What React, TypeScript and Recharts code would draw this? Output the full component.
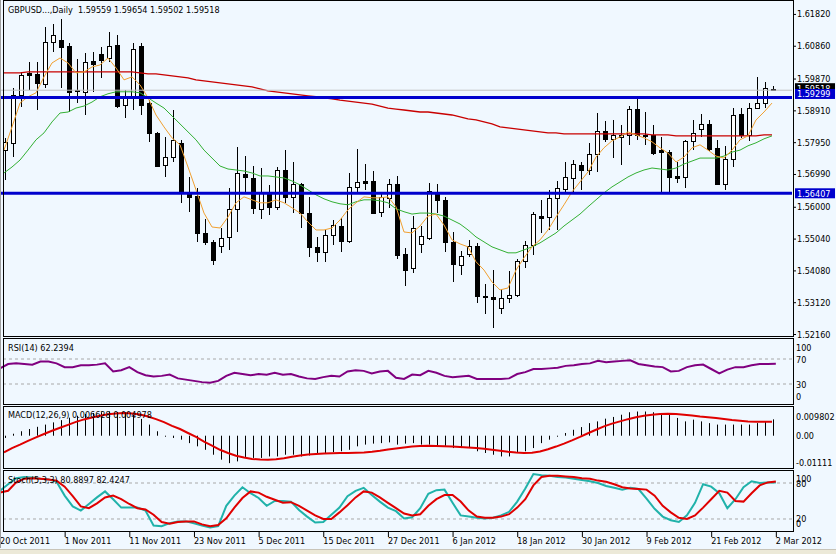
import React from 'react'
import { ComposedChart, Bar, Line, XAxis, YAxis, ReferenceLine } from 'recharts'

// labels under the bottom panel, one every 8 daily bars
const dateTicks = ['20 Oct 2011', '1 Nov 2011', '11 Nov 2011', '23 Nov 2011', '5 Dec 2011', '15 Dec 2011', '27 Dec 2011', '6 Jan 2012', '18 Jan 2012', '30 Jan 2012', '9 Feb 2012', '21 Feb 2012', '2 Mar 2012']

const opens = [
  1.5771, 1.5793, 1.5938, 1.6004, 1.6001, 1.5971, 1.6098, 1.6104, 1.6086, 1.5951,
  1.5947, 1.6040, 1.6061, 1.6049, 1.6089, 1.5907, 1.5932, 1.6086, 1.5913, 1.5823,
  1.5726, 1.5750, 1.5793, 1.5642, 1.5633, 1.5521, 1.5494, 1.5482, 1.5509, 1.5594,
  1.5699, 1.5687, 1.5594, 1.5645, 1.5600, 1.5711, 1.5630, 1.5669, 1.5581, 1.5479,
  1.5464, 1.5515, 1.5542, 1.5497, 1.5660, 1.5678, 1.5678, 1.5585, 1.5627, 1.5669,
  1.5458, 1.5415, 1.5488, 1.5506, 1.5645, 1.5621, 1.5494, 1.5425, 1.5458, 1.5482,
  1.5331, 1.5328, 1.5295, 1.5325, 1.5334, 1.5437, 1.5485, 1.5572, 1.5569, 1.5627,
  1.5654, 1.5687, 1.5726, 1.5711, 1.5759, 1.5829, 1.5805, 1.5811, 1.5817, 1.5895,
  1.5817, 1.5817, 1.5771, 1.5765, 1.5693, 1.5690, 1.5799, 1.5835, 1.5850, 1.5778,
  1.5669, 1.5744, 1.5880, 1.5817, 1.5898, 1.5913, 1.59559,
]
const highs = [
  1.5808, 1.5959, 1.6007, 1.6037, 1.6037, 1.6143, 1.6152, 1.6167, 1.6095, 1.6046,
  1.6064, 1.6067, 1.6083, 1.6128, 1.6119, 1.5953, 1.6095, 1.6095, 1.5922, 1.5826,
  1.5811, 1.5892, 1.5802, 1.5690, 1.5657, 1.5563, 1.5500, 1.5536, 1.5657, 1.5781,
  1.5753, 1.5723, 1.5717, 1.5666, 1.5720, 1.5771, 1.5735, 1.5672, 1.5630, 1.5509,
  1.5530, 1.5560, 1.5566, 1.5702, 1.5775, 1.5729, 1.5708, 1.5645, 1.5684, 1.5693,
  1.5476, 1.5572, 1.5542, 1.5672, 1.5669, 1.5630, 1.5524, 1.5467, 1.5500, 1.5491,
  1.5367, 1.5409, 1.5352, 1.5406, 1.5443, 1.5497, 1.5584, 1.5621, 1.5651, 1.5678,
  1.5735, 1.5741, 1.5735, 1.5793, 1.5883, 1.5859, 1.5862, 1.5847, 1.5904, 1.5932,
  1.5886, 1.5847, 1.5811, 1.5771, 1.5735, 1.5802, 1.5862, 1.5880, 1.5862, 1.5802,
  1.5784, 1.5898, 1.5898, 1.5913, 1.5992, 1.5977, 1.59654,
]
const lows = [
  1.5681, 1.5750, 1.5901, 1.5953, 1.5892, 1.5959, 1.6067, 1.5959, 1.5886, 1.5913,
  1.5877, 1.5947, 1.5989, 1.6037, 1.5898, 1.5868, 1.5892, 1.5877, 1.5796, 1.5720,
  1.5690, 1.5735, 1.5612, 1.5585, 1.5494, 1.5485, 1.5425, 1.5461, 1.5470, 1.5524,
  1.5642, 1.5578, 1.5563, 1.5575, 1.5591, 1.5612, 1.5581, 1.5536, 1.5449, 1.5434,
  1.5434, 1.5485, 1.5464, 1.5491, 1.5645, 1.5651, 1.5578, 1.5569, 1.5597, 1.5443,
  1.5361, 1.5400, 1.5461, 1.5500, 1.5581, 1.5464, 1.5373, 1.5394, 1.5449, 1.5310,
  1.5277, 1.5234, 1.5277, 1.5310, 1.5328, 1.5415, 1.5455, 1.5521, 1.5530, 1.5530,
  1.5642, 1.5642, 1.5651, 1.5696, 1.5705, 1.5796, 1.5747, 1.5726, 1.5787, 1.5802,
  1.5787, 1.5756, 1.5642, 1.5642, 1.5672, 1.5657, 1.5771, 1.5811, 1.5768, 1.5666,
  1.5651, 1.5720, 1.5808, 1.5799, 1.5895, 1.5898, 1.59502,
]
const closes = [
  1.5796, 1.5938, 1.5998, 1.5998, 1.5974, 1.6098, 1.6119, 1.6083, 1.5947, 1.5950,
  1.6037, 1.6031, 1.6043, 1.6086, 1.5904, 1.5932, 1.6076, 1.5907, 1.5823, 1.5723,
  1.5750, 1.5802, 1.5642, 1.5630, 1.5521, 1.5494, 1.5440, 1.5506, 1.5594, 1.5702,
  1.5690, 1.5597, 1.5645, 1.5600, 1.5711, 1.5630, 1.5669, 1.5581, 1.5479, 1.5464,
  1.5515, 1.5545, 1.5497, 1.5660, 1.5675, 1.5672, 1.5581, 1.5630, 1.5669, 1.5455,
  1.5409, 1.5536, 1.5512, 1.5648, 1.5621, 1.5494, 1.5428, 1.5452, 1.5482, 1.5331,
  1.5328, 1.5322, 1.5325, 1.5334, 1.5437, 1.5485, 1.5578, 1.5566, 1.5627, 1.5657,
  1.5690, 1.5729, 1.5711, 1.5759, 1.5829, 1.5805, 1.5817, 1.5817, 1.5895, 1.5817,
  1.5814, 1.5762, 1.5765, 1.5690, 1.5687, 1.5799, 1.5823, 1.5850, 1.5775, 1.5669,
  1.5744, 1.5877, 1.5817, 1.5898, 1.5913, 1.5959, 1.59518,
]

// moving averages drawn on the price panel
const maFast = [
  1.5771, 1.5841, 1.5913, 1.5932, 1.5944, 1.5992, 1.6034, 1.6049, 1.6034, 1.6004,
  1.6007, 1.6022, 1.6028, 1.6049, 1.6019, 1.5983, 1.5992, 1.5968, 1.5929, 1.5877,
  1.5841, 1.5808, 1.5787, 1.5720, 1.5651, 1.5581, 1.5539, 1.5536, 1.5569, 1.5612,
  1.5630, 1.5621, 1.5612, 1.5612, 1.5621, 1.5612, 1.5597, 1.5581, 1.5554, 1.5530,
  1.5530, 1.5536, 1.5560, 1.5591, 1.5612, 1.5630, 1.5627, 1.5627, 1.5630, 1.5600,
  1.5524, 1.5521, 1.5542, 1.5572, 1.5578, 1.5545, 1.5500, 1.5488, 1.5479, 1.5434,
  1.5409, 1.5373, 1.5349, 1.5355, 1.5409, 1.5446, 1.5479, 1.5500, 1.5530, 1.5569,
  1.5606, 1.5645, 1.5675, 1.5705, 1.5750, 1.5778, 1.5799, 1.5811, 1.5826, 1.5817,
  1.5808, 1.5796, 1.5778, 1.5762, 1.5735, 1.5750, 1.5778, 1.5787, 1.5771, 1.5753,
  1.5747, 1.5771, 1.5802, 1.5814, 1.5862, 1.5886, 1.5913,
]
const maMid = [
  1.5702, 1.5720, 1.5741, 1.5771, 1.5802, 1.5823, 1.5856, 1.5883, 1.5886, 1.5898,
  1.5904, 1.5916, 1.5932, 1.5941, 1.5947, 1.5947, 1.5947, 1.5944, 1.5929, 1.5913,
  1.5898, 1.5874, 1.5850, 1.5826, 1.5802, 1.5771, 1.5747, 1.5723, 1.5714, 1.5711,
  1.5708, 1.5702, 1.5693, 1.5693, 1.5690, 1.5687, 1.5678, 1.5666, 1.5651, 1.5636,
  1.5624, 1.5615, 1.5609, 1.5606, 1.5615, 1.5621, 1.5621, 1.5618, 1.5612, 1.5594,
  1.5585, 1.5578, 1.5581, 1.5581, 1.5578, 1.5572, 1.5560, 1.5548, 1.5530, 1.5509,
  1.5494, 1.5479, 1.5470, 1.5461, 1.5461, 1.5470, 1.5479, 1.5491, 1.5506, 1.5521,
  1.5542, 1.5560, 1.5578, 1.5600, 1.5621, 1.5642, 1.5660, 1.5675, 1.5690, 1.5702,
  1.5711, 1.5717, 1.5714, 1.5711, 1.5717, 1.5729, 1.5738, 1.5747, 1.5747, 1.5747,
  1.5753, 1.5765, 1.5771, 1.5784, 1.5793, 1.5805, 1.5814,
]
const maSlow = [
  1.6004, 1.6004, 1.6004, 1.6007, 1.6007, 1.6007, 1.6007, 1.6007, 1.6007, 1.6007,
  1.6007, 1.6007, 1.6007, 1.6007, 1.6007, 1.6007, 1.6007, 1.6004, 1.6001, 1.6001,
  1.5998, 1.5995, 1.5992, 1.5989, 1.5983, 1.5980, 1.5977, 1.5974, 1.5971, 1.5968,
  1.5965, 1.5962, 1.5956, 1.5950, 1.5947, 1.5944, 1.5941, 1.5938, 1.5935, 1.5932,
  1.5929, 1.5926, 1.5922, 1.5919, 1.5916, 1.5913, 1.5910, 1.5904, 1.5898, 1.5895,
  1.5892, 1.5889, 1.5886, 1.5886, 1.5883, 1.5880, 1.5877, 1.5871, 1.5865, 1.5862,
  1.5856, 1.5850, 1.5841, 1.5838, 1.5835, 1.5832, 1.5829, 1.5826, 1.5823, 1.5823,
  1.5820, 1.5820, 1.5820, 1.5820, 1.5820, 1.5820, 1.5820, 1.5820, 1.5820, 1.5820,
  1.5820, 1.5817, 1.5817, 1.5817, 1.5814, 1.5814, 1.5814, 1.5814, 1.5814, 1.5814,
  1.5814, 1.5814, 1.5814, 1.5814, 1.5814, 1.5817, 1.5817,
]

const rsi = [
  55, 62, 63, 62, 61, 66, 66, 63, 57, 57,
  60, 60, 61, 63, 50, 52, 57, 49, 44, 42,
  43, 45, 39, 37, 35, 33, 32, 35, 43, 48,
  46, 44, 46, 45, 48, 45, 46, 42, 39, 38,
  41, 43, 42, 50, 52, 51, 47, 50, 51, 40,
  38, 45, 44, 51, 48, 43, 41, 42, 43, 38,
  38, 38, 38, 39, 46, 49, 54, 54, 55, 56,
  59, 60, 62, 63, 67, 65, 66, 67, 68, 62,
  60, 58, 57, 50, 51, 57, 60, 61, 54, 47,
  53, 57, 57, 60, 62, 62, 62.2394,
]

const macdHist = [
  -0.0009, 0.0008, 0.0018, 0.0027, 0.0036, 0.0045, 0.0054, 0.0063, 0.0073, 0.0081,
  0.0088, 0.0092, 0.0095, 0.009802, 0.0096, 0.0092, 0.0085, 0.0068, 0.0045, 0.0018,
  -0.0003, -0.0009, -0.0016, -0.0030, -0.0043, -0.0057, -0.0077, -0.0097, -0.01111, -0.0104,
  -0.0090, -0.0090, -0.0090, -0.0084, -0.0084, -0.0077, -0.0077, -0.0084, -0.0080, -0.0073,
  -0.0070, -0.0066, -0.0063, -0.0057, -0.0043, -0.0036, -0.0032, -0.0030, -0.0027, -0.0036,
  -0.0032, -0.0030, -0.0036, -0.0036, -0.0043, -0.0041, -0.0050, -0.0050, -0.0050, -0.0063,
  -0.0070, -0.0077, -0.0084, -0.0084, -0.0070, -0.0063, -0.0050, -0.0030, -0.0016, -0.0003,
  0.0011, 0.0024, 0.0035, 0.0051, 0.0058, 0.0069, 0.0076, 0.0085, 0.0095, 0.0098,
  0.0098, 0.0095, 0.0092, 0.0085, 0.0072, 0.0058, 0.0065, 0.0058, 0.0051, 0.0045,
  0.0045, 0.0045, 0.0045, 0.0045, 0.0051, 0.0058, 0.006628,
]
const macdSignal = [
  -0.0068, -0.0050, -0.0036, -0.0021, -0.0007, 0.0007, 0.0020, 0.0032, 0.0044, 0.0056,
  0.0066, 0.0074, 0.0081, 0.0087, 0.0090, 0.0092, 0.0090, 0.0086, 0.0078, 0.0067,
  0.0055, 0.0040, 0.0027, 0.0011, -0.0005, -0.0024, -0.0040, -0.0057, -0.0070, -0.0081,
  -0.0088, -0.0094, -0.0096, -0.0097, -0.0095, -0.0091, -0.0085, -0.0080, -0.0076, -0.0074,
  -0.0072, -0.0071, -0.0070, -0.0070, -0.0069, -0.0068, -0.0065, -0.0061, -0.0056, -0.0052,
  -0.0048, -0.0044, -0.0042, -0.0041, -0.0042, -0.0043, -0.0044, -0.0046, -0.0048, -0.0050,
  -0.0053, -0.0057, -0.0061, -0.0065, -0.0068, -0.0070, -0.0069, -0.0064, -0.0055, -0.0044,
  -0.0032, -0.0019, -0.0005, 0.0010, 0.0024, 0.0038, 0.0049, 0.0058, 0.0067, 0.0075,
  0.0081, 0.0085, 0.0088, 0.0089, 0.0088, 0.0085, 0.0082, 0.0078, 0.0075, 0.0072,
  0.0068, 0.0064, 0.0061, 0.0058, 0.0057, 0.0057, 0.0057,
]

const stochMain = [
  67, 78, 88, 90, 89, 87, 86, 82, 59, 41,
  34, 45, 56, 66, 53, 39, 39, 39, 34, 9,
  8, 13, 16, 16, 13, 9, 6, 8, 42, 59,
  73, 63, 55, 42, 50, 50, 49, 35, 24, 14,
  15, 27, 39, 58, 67, 72, 60, 49, 39, 33,
  21, 23, 38, 62, 68, 69, 47, 26, 24, 22,
  21, 22, 26, 32, 49, 71, 95, 93, 92, 90,
  89, 87, 85, 83, 80, 75, 72, 69, 72, 70,
  54, 37, 24, 18, 15, 26, 47, 78, 74, 63,
  38, 53, 73, 83, 80, 81, 80.8897,
]
const stochSignal = [
  64, 67, 81, 87, 88, 87, 86, 84, 74, 58,
  41, 38, 46, 56, 59, 53, 45, 38, 36, 27,
  15, 12, 15, 16, 16, 11, 8, 10, 21, 39,
  55, 66, 64, 57, 52, 47, 48, 42, 34, 26,
  20, 20, 31, 43, 56, 66, 64, 56, 47, 38,
  29, 26, 28, 42, 53, 60, 60, 49, 34, 24,
  22, 22, 24, 28, 39, 53, 76, 90, 92, 92,
  91, 90, 88, 87, 84, 82, 78, 73, 71, 70,
  69, 59, 42, 31, 22, 20, 26, 39, 53, 67,
  64, 50, 49, 63, 76, 81, 82.4247,
]

const priceTicks = [1.6182, 1.6086, 1.5987, 1.5891, 1.5795, 1.5699, 1.56, 1.5504, 1.5408, 1.5312, 1.5216]
const bidPrice = 1.59518
const hLines = [1.59299, 1.56407]

const FONT = "'DejaVu Sans Condensed', 'Liberation Sans', Arial, sans-serif"
const BG = '#F0F8FF'

// two empty slots on the right, like the chart shift in the terminal
const rows = Array.from({ length: opens.length + 2 }, (_, i) =>
  i < opens.length
    ? {
        i,
        o: opens[i],
        h: highs[i],
        l: lows[i],
        c: closes[i],
        range: [lows[i], highs[i]],
        fast: maFast[i],
        mid: maMid[i],
        slow: maSlow[i],
        rsi: rsi[i],
        hist: macdHist[i],
        signal: macdSignal[i],
        k: stochMain[i],
        d: stochSignal[i],
      }
    : { i }
)

const Candle = (props: any) => {
  const { x, y, width, height, payload } = props
  if (!payload || payload.o == null) return null
  const top = Math.min(y, y + height)
  const bottom = Math.max(y, y + height)
  const span = payload.h - payload.l || 1
  const py = (v: number) => top + ((payload.h - v) / span) * (bottom - top)
  const c = Math.round(x + width / 2)
  const yo = Math.round(py(payload.o))
  const yc = Math.round(py(payload.c))
  const up = payload.c >= payload.o
  const bTop = Math.min(yo, yc)
  const bH = Math.abs(yo - yc)
  return (
    <g>
      <line x1={c + 0.5} x2={c + 0.5} y1={Math.round(top)} y2={Math.round(bottom)} stroke="#000" />
      {bH < 1 ? (
        <line x1={c - 2} x2={c + 3} y1={bTop + 0.5} y2={bTop + 0.5} stroke="#000" />
      ) : (
        <rect x={c - 1.5} y={bTop + 0.5} width={4} height={bH} fill={up ? '#fff' : '#000'} stroke="#000" />
      )}
    </g>
  )
}

const HistBar = (p: any) => {
  if (!p.payload || p.payload.hist == null) return null
  const top = Math.min(p.y, p.y + p.height)
  const h = Math.abs(p.height)
  return <rect x={Math.round(p.x + p.width / 2)} y={top} width={1} height={Math.max(h, 1)} fill="#000" />
}

const PriceTick = (props: any) => {
  const { x, y, payload } = props
  const v = payload.value as number
  const txt = v.toFixed(5)
  if (v === bidPrice || hLines.includes(v)) {
    // the terminal nudges the two stacked price boxes up a little
    const cy = v === bidPrice ? y - 2 : v === hLines[0] ? y - 3.5 : y
    return (
      <g>
        <rect x={x + 3} y={cy - 5} width={40} height={10} fill={v === bidPrice ? '#000' : '#0000CD'} />
        <text x={x + 5} y={cy + 3.5} fill="#fff" fontSize={9} fontFamily={FONT}>{txt}</text>
      </g>
    )
  }
  return (
    <g>
      <line x1={x + 1} x2={x + 4} y1={y + 0.5} y2={y + 0.5} stroke="#000" />
      <text x={x + 5} y={y + 3.5} fontSize={9} fontFamily={FONT} fill="#000">{txt}</text>
    </g>
  )
}

const SideTick = (props: any) => {
  const { x, y, payload, labels, shift } = props
  const v = payload.value
  const yy = y + (shift?.[String(v)] ?? 0)
  return (
    <text x={x + 4} y={yy + 3.5} fontSize={9} fontFamily={FONT} fill="#000">
      {labels?.[String(v)] ?? String(v)}
    </text>
  )
}

const DateTick = (props: any) => {
  const { x, y, payload } = props
  const label = dateTicks[Math.round(payload.value / 8)]
  if (!label) return null
  return (
    <g>
      <line x1={x + 0.5} x2={x + 0.5} y1={y} y2={y + 5} stroke="#000" />
      <text x={x} y={y + 12} fontSize={9} fontFamily={FONT} fill="#000">{label}</text>
    </g>
  )
}

const abs = (left: number, top: number): React.CSSProperties => ({ position: 'absolute', left, top })
const labelStyle = (left: number, top: number): React.CSSProperties => ({
  ...abs(left, top),
  fontSize: 9,
  lineHeight: '11px',
  fontFamily: FONT,
  color: '#000',
  whiteSpace: 'pre',
})

const frames = [
  [0, 337],
  [338, 67],
  [406, 63],
  [470, 62],
]

const noMargin = { top: 0, right: 0, bottom: 0, left: 0 }

export default function App() {
  return (
    <div style={{ position: 'fixed', left: 0, top: 0, width: 836, height: 554, background: BG, overflow: 'hidden' }}>
      {/* price panel */}
      <div style={abs(0, 2)}>
        <ComposedChart width={836} height={342} data={rows} margin={{ top: 0, right: 0, bottom: 8, left: 0 }}>
          <XAxis dataKey="i" hide />
          <YAxis
            orientation="right"
            width={44}
            domain={[1.521, 1.6218]}
            allowDataOverflow
            ticks={[...priceTicks, bidPrice, ...hLines]}
            interval={0}
            tick={<PriceTick />}
            tickLine={false}
            axisLine={false}
            tickSize={0}
            tickMargin={0}
          />
          <Line dataKey="slow" stroke="#C80000" strokeWidth={1.3} dot={false} isAnimationActive={false} />
          <Line dataKey="mid" stroke="#33B033" strokeWidth={1} dot={false} isAnimationActive={false} />
          <Line dataKey="fast" stroke="#F0A030" strokeWidth={1} dot={false} isAnimationActive={false} />
          <Bar dataKey="range" barSize={5} shape={(p: any) => <Candle {...p} />} isAnimationActive={false} />
          <ReferenceLine y={bidPrice} stroke="#C0C0C0" strokeWidth={1} />
          {hLines.map((v) => (
            <ReferenceLine key={v} y={v} stroke="#0000CD" strokeWidth={3} />
          ))}
        </ComposedChart>
      </div>

      {/* RSI */}
      <div style={abs(0, 338)}>
        <ComposedChart width={836} height={66} data={rows} margin={noMargin}>
          <XAxis dataKey="i" hide />
          <YAxis
            orientation="right"
            width={44}
            domain={[-2, 103.6]}
            allowDataOverflow
            ticks={[100, 70, 30, 0]}
            interval={0}
            tick={<SideTick shift={{ '100': 7, '0': -6 }} />}
            tickLine={false}
            axisLine={false}
            tickSize={0}
            tickMargin={0}
          />
          <ReferenceLine y={70} stroke="#A8A8A8" strokeDasharray="3 3" />
          <ReferenceLine y={30} stroke="#A8A8A8" strokeDasharray="3 3" />
          <Line dataKey="rsi" stroke="#800080" strokeWidth={2} dot={false} isAnimationActive={false} />
        </ComposedChart>
      </div>

      {/* MACD */}
      <div style={abs(0, 406)}>
        <ComposedChart width={836} height={62} data={rows} margin={noMargin}>
          <XAxis dataKey="i" hide />
          <YAxis
            orientation="right"
            width={44}
            domain={[-0.01308, 0.01203]}
            allowDataOverflow
            ticks={[0.009802, 0, -0.01111]}
            interval={0}
            tick={<SideTick labels={{ '0.009802': '0.009802', '0': '0.00', '-0.01111': '-0.01111' }} shift={{ '0.009802': 5, '-0.01111': -1 }} />}
            tickLine={false}
            axisLine={false}
            tickSize={0}
            tickMargin={0}
          />
          <Bar dataKey="hist" barSize={1} shape={(p: any) => <HistBar {...p} />} isAnimationActive={false} />
          <Line dataKey="signal" stroke="#E00000" strokeWidth={2} dot={false} isAnimationActive={false} />
        </ComposedChart>
      </div>

      {/* Stochastic + date axis */}
      <div style={abs(0, 470)}>
        <ComposedChart width={836} height={82} data={rows} margin={noMargin}>
          <XAxis
            dataKey="i"
            height={20}
            interval={7}
            tick={<DateTick />}
            tickLine={false}
            axisLine={false}
            tickSize={0}
            tickMargin={0}
          />
          <YAxis
            orientation="right"
            width={44}
            domain={[-1.7, 101.7]}
            allowDataOverflow
            ticks={[100, 80, 20, 0]}
            interval={0}
            tick={<SideTick shift={{ '100': 7, '0': -7 }} />}
            tickLine={false}
            axisLine={false}
            tickSize={0}
            tickMargin={0}
          />
          <ReferenceLine y={80} stroke="#A8A8A8" strokeDasharray="3 3" />
          <ReferenceLine y={20} stroke="#A8A8A8" strokeDasharray="3 3" />
          <Line dataKey="k" stroke="#20B2AA" strokeWidth={2} dot={false} isAnimationActive={false} />
          <Line dataKey="d" stroke="#E00000" strokeWidth={2} dot={false} isAnimationActive={false} />
        </ComposedChart>
      </div>

      {/* panel frames */}
      {frames.map(([t, h]) => (
        <div
          key={t}
          style={{ ...abs(3, t), width: 791, height: h, border: '1px solid #000', boxSizing: 'border-box', pointerEvents: 'none' }}
        />
      ))}
      <div style={{ ...abs(0, 0), width: 1, height: 548, background: '#A0A0A0' }} />
      <div style={{ ...abs(0, 549), width: 836, height: 5, background: '#ECE9D8', borderTop: '1px solid #C8C4B8' }} />

      {/* panel captions */}
      <div style={labelStyle(8, 5)}>{'GBPUSD...,Daily  1.59559 1.59654 1.59502 1.59518'}</div>
      <div style={labelStyle(8, 343)}>{'RSI(14) 62.2394'}</div>
      <div style={labelStyle(8, 410)}>{'MACD(12,26,9) 0.006628 0.004978'}</div>
      <div style={labelStyle(8, 475)}>{'Stoch(5,3,3) 80.8897 82.4247'}</div>
    </div>
  )
}
